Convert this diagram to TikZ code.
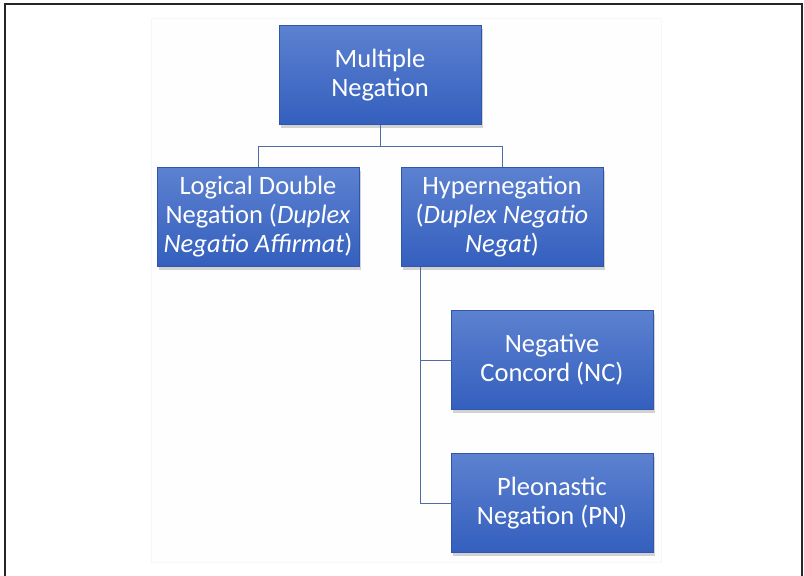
\documentclass[tikz,border=0pt]{standalone}
\usepackage{fontspec}
\setmainfont{Carlito}
\usepackage{tikz}
\usetikzlibrary{positioning, shadows}

\definecolor{boxtop}{RGB}{92,129,208}
\definecolor{boxbottom}{RGB}{52,95,190}
\definecolor{linkblue}{RGB}{80,108,168}

\begin{document}
\begin{tikzpicture}[x=1pt,y=-1pt,
        concept/.style={rectangle,draw=boxbottom!90!black,line width=0.4pt,
            top color=boxtop,bottom color=boxbottom,text=white,
            minimum width=202pt,minimum height=99pt,align=center,
            font=\fontsize{26.5}{29}\selectfont,
            drop shadow={shadow xshift=2pt,shadow yshift=-3pt,opacity=0.35}},
        link/.style={draw=linkblue,line width=1pt}]
        \useasboundingbox (0,0) rectangle (804,576);
        % frame and panel
        \draw[line width=1.5pt,black!85] (5,576) -- (5,4) -- (802,4) -- (802,576);
        \draw[black!3,fill=black!0.5] (151,18) rectangle (661,562);

        \node[concept] (multiple) at (380,75)  {Multiple\\Negation};
        \node[concept] (logical)  at (258,217) {Logical Double\\Negation (\textit{Duplex}\\\textit{Negatio Affirmat})};
        \node[concept] (hyper)    at (502,217) {Hypernegation\\(\textit{Duplex Negatio}\\\textit{Negat})};
        \node[concept] (nc)       at (552,360) {Negative\\Concord (NC)};
        \node[concept] (pn)       at (552,503) {Pleonastic\\Negation (PN)};

        \path[link] (multiple.south) -- ++(0,22) -| (logical.north)
                    (multiple.south) -- ++(0,22) -| (hyper.north)
                    ([xshift=20pt]hyper.south west) |- (nc.west)
                    ([xshift=20pt]hyper.south west) |- (pn.west);
    \end{tikzpicture}
\end{document}
